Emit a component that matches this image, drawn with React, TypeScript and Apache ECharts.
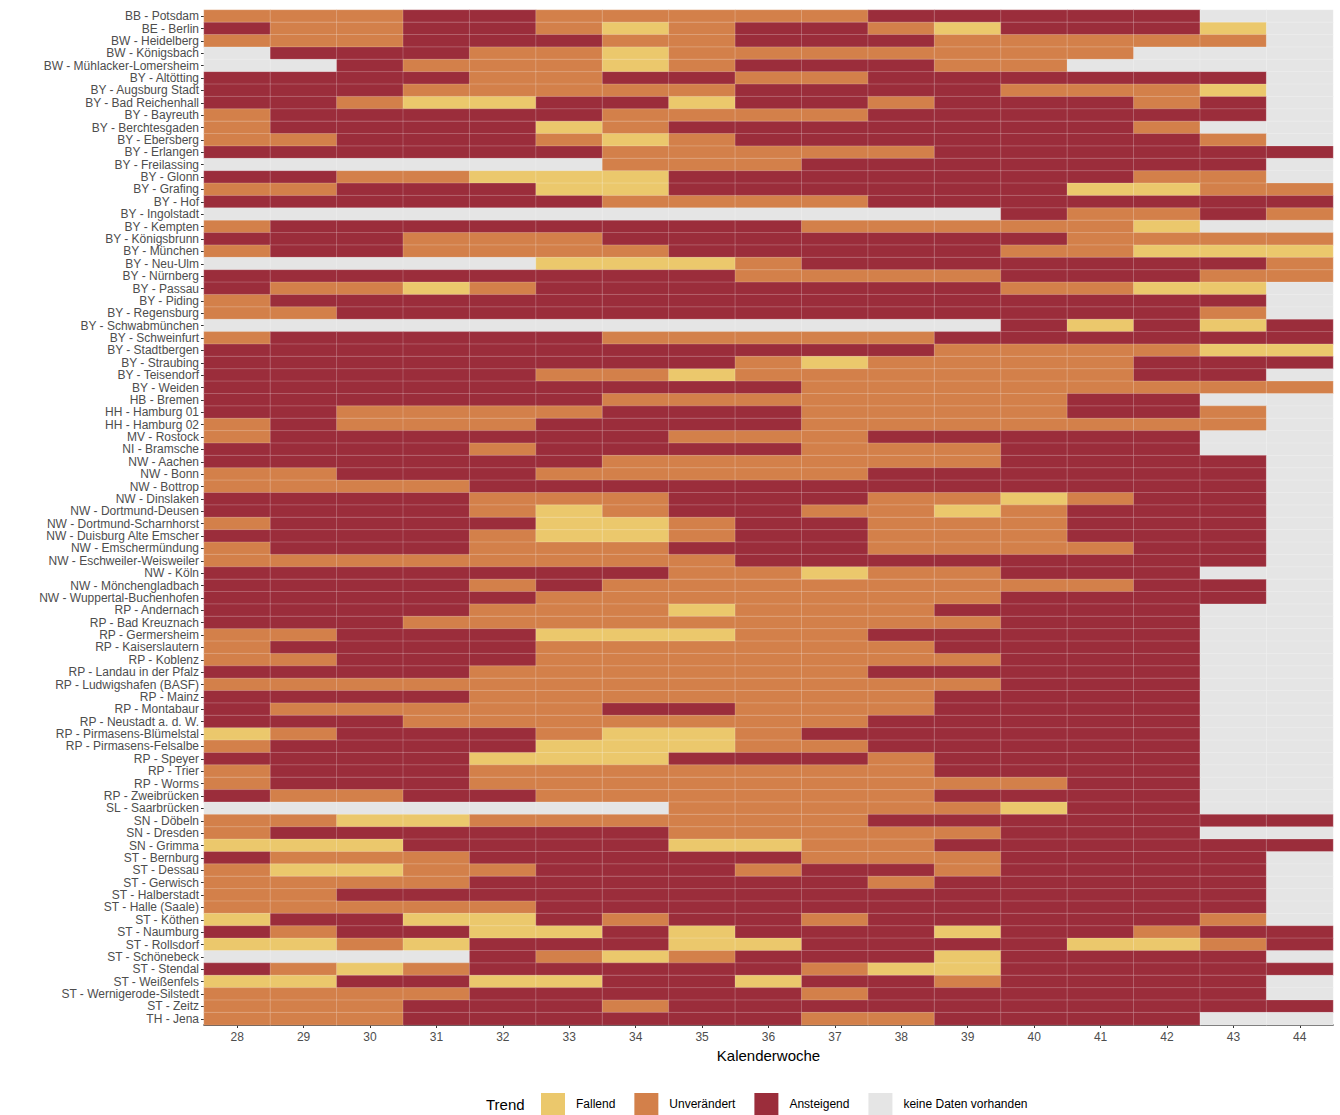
import React, { useEffect, useRef } from 'react';
import * as echarts from 'echarts';

// F = Fallend, U = Unverändert, A = Ansteigend, N = keine Daten
const weeks = ['28', '29', '30', '31', '32', '33', '34', '35', '36', '37', '38', '39', '40', '41', '42', '43', '44'];

const sites = [
    'BB - Potsdam', 'BE - Berlin', 'BW - Heidelberg', 'BW - Königsbach', 'BW - Mühlacker-Lomersheim',
    'BY - Altötting', 'BY - Augsburg Stadt', 'BY - Bad Reichenhall', 'BY - Bayreuth', 'BY - Berchtesgaden',
    'BY - Ebersberg', 'BY - Erlangen', 'BY - Freilassing', 'BY - Glonn', 'BY - Grafing', 'BY - Hof',
    'BY - Ingolstadt', 'BY - Kempten', 'BY - Königsbrunn', 'BY - München', 'BY - Neu-Ulm', 'BY - Nürnberg',
    'BY - Passau', 'BY - Piding', 'BY - Regensburg', 'BY - Schwabmünchen', 'BY - Schweinfurt',
    'BY - Stadtbergen', 'BY - Straubing', 'BY - Teisendorf', 'BY - Weiden', 'HB - Bremen',
    'HH - Hamburg 01', 'HH - Hamburg 02', 'MV - Rostock', 'NI - Bramsche', 'NW - Aachen', 'NW - Bonn',
    'NW - Bottrop', 'NW - Dinslaken', 'NW - Dortmund-Deusen', 'NW - Dortmund-Scharnhorst',
    'NW - Duisburg Alte Emscher', 'NW - Emschermündung', 'NW - Eschweiler-Weisweiler', 'NW - Köln',
    'NW - Mönchengladbach', 'NW - Wuppertal-Buchenhofen', 'RP - Andernach', 'RP - Bad Kreuznach',
    'RP - Germersheim', 'RP - Kaiserslautern', 'RP - Koblenz', 'RP - Landau in der Pfalz',
    'RP - Ludwigshafen (BASF)', 'RP - Mainz', 'RP - Montabaur', 'RP - Neustadt a. d. W.',
    'RP - Pirmasens-Blümelstal', 'RP - Pirmasens-Felsalbe', 'RP - Speyer', 'RP - Trier', 'RP - Worms',
    'RP - Zweibrücken', 'SL - Saarbrücken', 'SN - Döbeln', 'SN - Dresden', 'SN - Grimma', 'ST - Bernburg',
    'ST - Dessau', 'ST - Gerwisch', 'ST - Halberstadt', 'ST - Halle (Saale)', 'ST - Köthen',
    'ST - Naumburg', 'ST - Rollsdorf', 'ST - Schönebeck', 'ST - Stendal', 'ST - Weißenfels',
    'ST - Wernigerode-Silstedt', 'ST - Zeitz', 'TH - Jena'
];

const trends = [
    'UUUAAUUUUUAAAAANN', 'AUUAAUFUAAUFAAAFN', 'UUUAAAUUAAAUUUUUN', 'NAAAUUFUUUUUUUNNN', 'NNAUUUFUAAAUUNNNN',
    'AAAAUUAAUUAAAAAAN', 'AAAUUUUUAAAAUUUFN', 'AAUFFAAFAAUAAAUAN', 'UAAAAAUUUUAAAAAAN', 'UAAAAFUAAAAAAAUNN',
    'UUAAAUFUAAAAAAAUN', 'AAAAAAUUUUUAAAAAA', 'NNNNNNUUUAAAAAAAN', 'AAUUFFFAAAAAAAUUN', 'UUAAAFFAAAAAAFFUU',
    'AAAAAAUUUUAAAAAAA', 'NNNNNNNNNNNNAUUAU', 'UAAAAAAAAUUUUUFNN', 'AAAUUUAAAAAAAUUUU', 'UAAUUUUAAAAAUUFFF',
    'NNNNNFFFUAAAAAAAU', 'AAAAAAAAUUUUAAAUU', 'AUUFUAAAAAAAUUFFN', 'UAAAAAAAAAAAAAAAN', 'UUAAAAAAAAAAAAAUN',
    'NNNNNNNNNNNNAFAFA', 'UAAAAAUUUUUAAAAAA', 'AAAAAAAAAAAUUUUFF', 'AAAAAAAAUFUUUUAAA', 'AAAAAUUFUUUUUUAAN',
    'AAAAAAAAAUUUUUUUU', 'AAAAAAUUUUUUUAANN', 'AAUUUUAAAUUUUAAUN', 'UAUUUAAAAUUUUUUUN', 'UAAAAAAUUUAAAAANN',
    'AAAAUAAAAUUUAAANN', 'AAAAAAUUUUUUAAAAN', 'UUAAAUUUUUAAAAAAN', 'UUUUAAAAAAAAAAAAN', 'AAAAUUUAAAUUFUAAN',
    'AAAAUFUAAUUFUAAAN', 'UAAAAFFUAAUUUAAAN', 'AAAAUFFUAAUUUAAAN', 'UAAAUUUAAAUUUUAAN', 'UUUUUUUUAAAAAAAAN',
    'AAAAAAAUUFUUAAANN', 'AAAAUAUUUUUUUUAAN', 'AAAAAUUUUUUUAAAAN', 'AAAAUUUFUUUAAAANN', 'AAAUUUUUUUUUAAANN',
    'UUAAAFFFUUAAAAANN', 'UAAAAUUUUUUAAAANN', 'UUAAAUUUUUUUAAANN', 'AAAAUUUUUUAAAAANN', 'UUUUUUUUUUUUAAANN',
    'AAAAUUUUUUUAAAANN', 'AUUUUUAAUUUAAAANN', 'AAAUUUUUUUAAAAANN', 'FUAAAUFFUAAAAAANN', 'UAAAAFFFUUAAAAANN',
    'AAAAFFFAAAUAAAANN', 'UAAAUUUUUUUAAAANN', 'UAAAUUUUUUUUUAANN', 'AUUAAUUUUUUAAAANN', 'NNNNNNNUUUUUFAANN',
    'UUFFUUUUUUAAAAAAA', 'UAAAAAAUUUUUAAANN', 'FFFAAAAFFUUAAAAAA', 'AUUUAAAAAUUUAAAAN', 'UFFUUAAAUAAUAAAAN',
    'UUUUAAAAAAUAAAAAN', 'UUAAAAAAAAAAAAAAN', 'UUUUUAAAAAAAAAAAN', 'FAAFFAUAAUAAAAAUN', 'AUAAFFAFAAAFAAUAA',
    'FFUFAAAFFAAAAFFUA', 'NNNNAUFUAAAFAAAAN', 'AUFUAAAAAUFFAAAAA', 'FFAAFFAAFAAUAAAAN', 'UUUUAAAAAUAAAAAAN',
    'UUUAAAUAAAAAAAAAA', 'UUUAAAAAAUUAAAANN'
];

const codes = ['F', 'U', 'A', 'N'];
const trendLabels = ['Fallend', 'Unverändert', 'Ansteigend', 'keine Daten vorhanden'];
const trendColors = ['#EBC86C', '#D3804A', '#9B2D3B', '#E5E5E5'];

export default function App() {
    const chartRef = useRef<HTMLDivElement>(null);

    useEffect(() => {
        if (!chartRef.current) return;
        document.body.style.margin = '0';
        const chart = echarts.init(chartRef.current, null, { renderer: 'svg' });

        const data: number[][] = [];
        trends.forEach((row, y) => {
            row.split('').forEach((c, x) => data.push([x, y, codes.indexOf(c)]));
        });

        const font = 'Liberation Sans, Arial, sans-serif';

        chart.setOption({
            animation: false,
            textStyle: { fontFamily: font },
            grid: { left: 204, right: 7, top: 10, bottom: 90 },
            xAxis: {
                type: 'category',
                data: weeks,
                name: 'Kalenderwoche',
                nameLocation: 'middle',
                nameGap: 23,
                nameTextStyle: { fontSize: 15, color: '#000' },
                axisLine: { lineStyle: { color: '#000', width: 1.5 } },
                axisTick: { show: true, alignWithLabel: true, lineStyle: { color: '#333' }, length: 3 },
                axisLabel: { color: '#4D4D4D', fontSize: 12, margin: 6 },
                splitLine: { show: false }
            },
            yAxis: {
                type: 'category',
                data: sites,
                inverse: true,
                axisLine: { show: false },
                axisTick: { show: true, alignWithLabel: true, lineStyle: { color: '#333' }, length: 3 },
                axisLabel: { color: '#4D4D4D', fontSize: 12, margin: 5, interval: 0 },
                splitLine: { show: false }
            },
            visualMap: {
                type: 'piecewise',
                dimension: 2,
                orient: 'horizontal',
                left: 541,
                top: 1093,
                padding: 0,
                itemWidth: 24,
                itemHeight: 22,
                itemGap: 19,
                itemSymbol: 'rect',
                textGap: 11,
                textStyle: { fontSize: 12, color: '#000' },
                selectedMode: false,
                pieces: trendLabels.map((label, i) => ({ value: i, label, color: trendColors[i] }))
            },
            graphic: [
                {
                    type: 'text',
                    left: 486,
                    top: 1097,
                    style: { text: 'Trend', fontSize: 15, fill: '#000', fontFamily: font }
                }
            ],
            series: [
                {
                    type: 'heatmap',
                    data,
                    itemStyle: { borderColor: 'rgba(255,255,255,0.35)', borderWidth: 0.6 },
                    emphasis: { disabled: true }
                }
            ]
        });

        return () => chart.dispose();
    }, []);

    return <div ref={chartRef} style={{ width: 1340, height: 1115 }} />;
}
